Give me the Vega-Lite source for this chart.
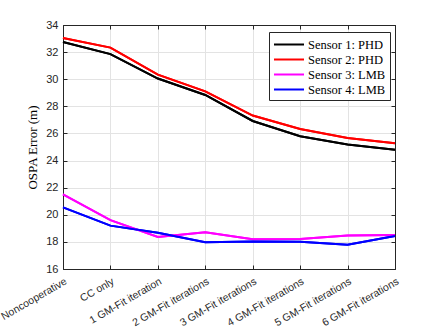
{
  "$schema": "https://vega.github.io/schema/vega-lite/v6.json",
  "width": 332,
  "height": 244,
  "autosize": "none",
  "padding": {"left": 63, "top": 25, "right": 41, "bottom": 58},
  "background": "white",
  "config": {
    "view": {"stroke": "#262626", "strokeWidth": 1},
    "axis": {
      "labelFont": "Liberation Sans",
      "labelFontSize": 11,
      "labelColor": "#262626",
      "domainColor": "#262626",
      "tickColor": "#262626",
      "gridColor": "#e3e3e3",
      "gridOpacity": 1
    }
  },
  "data": {
    "values": [
      {"series": "Sensor 1: PHD", "cat": "Noncooperative", "v": 32.75},
      {"series": "Sensor 1: PHD", "cat": "CC only", "v": 31.85},
      {"series": "Sensor 1: PHD", "cat": "1 GM-Fit iteration", "v": 30.05},
      {"series": "Sensor 1: PHD", "cat": "2 GM-Fit iterations", "v": 28.84},
      {"series": "Sensor 1: PHD", "cat": "3 GM-Fit iterations", "v": 26.92},
      {"series": "Sensor 1: PHD", "cat": "4 GM-Fit iterations", "v": 25.79},
      {"series": "Sensor 1: PHD", "cat": "5 GM-Fit iterations", "v": 25.18},
      {"series": "Sensor 1: PHD", "cat": "6 GM-Fit iterations", "v": 24.8},
      {"series": "Sensor 2: PHD", "cat": "Noncooperative", "v": 33.04},
      {"series": "Sensor 2: PHD", "cat": "CC only", "v": 32.33},
      {"series": "Sensor 2: PHD", "cat": "1 GM-Fit iteration", "v": 30.34},
      {"series": "Sensor 2: PHD", "cat": "2 GM-Fit iterations", "v": 29.1},
      {"series": "Sensor 2: PHD", "cat": "3 GM-Fit iterations", "v": 27.32},
      {"series": "Sensor 2: PHD", "cat": "4 GM-Fit iterations", "v": 26.33},
      {"series": "Sensor 2: PHD", "cat": "5 GM-Fit iterations", "v": 25.67},
      {"series": "Sensor 2: PHD", "cat": "6 GM-Fit iterations", "v": 25.27},
      {"series": "Sensor 3: LMB", "cat": "Noncooperative", "v": 21.5},
      {"series": "Sensor 3: LMB", "cat": "CC only", "v": 19.6},
      {"series": "Sensor 3: LMB", "cat": "1 GM-Fit iteration", "v": 18.37},
      {"series": "Sensor 3: LMB", "cat": "2 GM-Fit iterations", "v": 18.71},
      {"series": "Sensor 3: LMB", "cat": "3 GM-Fit iterations", "v": 18.2},
      {"series": "Sensor 3: LMB", "cat": "4 GM-Fit iterations", "v": 18.22},
      {"series": "Sensor 3: LMB", "cat": "5 GM-Fit iterations", "v": 18.47},
      {"series": "Sensor 3: LMB", "cat": "6 GM-Fit iterations", "v": 18.51},
      {"series": "Sensor 4: LMB", "cat": "Noncooperative", "v": 20.55},
      {"series": "Sensor 4: LMB", "cat": "CC only", "v": 19.2},
      {"series": "Sensor 4: LMB", "cat": "1 GM-Fit iteration", "v": 18.67},
      {"series": "Sensor 4: LMB", "cat": "2 GM-Fit iterations", "v": 17.97},
      {"series": "Sensor 4: LMB", "cat": "3 GM-Fit iterations", "v": 18.03},
      {"series": "Sensor 4: LMB", "cat": "4 GM-Fit iterations", "v": 18.01},
      {"series": "Sensor 4: LMB", "cat": "5 GM-Fit iterations", "v": 17.79},
      {"series": "Sensor 4: LMB", "cat": "6 GM-Fit iterations", "v": 18.43}
    ]
  },
  "layer": [
    {
      "mark": {"type": "line", "strokeWidth": 2},
      "encoding": {
        "x": {
          "field": "cat", "type": "ordinal",
          "sort": ["Noncooperative", "CC only", "1 GM-Fit iteration", "2 GM-Fit iterations", "3 GM-Fit iterations", "4 GM-Fit iterations", "5 GM-Fit iterations", "6 GM-Fit iterations"],
          "scale": {"type": "point", "padding": 0},
          "axis": {"title": null, "labelAngle": -30, "labelAlign": "right", "labelBaseline": "top", "labelFontSize": 10.5, "tickSize": -4, "labelPadding": 11, "grid": true, "domain": true}
        },
        "y": {
          "field": "v", "type": "quantitative",
          "scale": {"domain": [16, 34], "nice": false, "zero": false},
          "axis": {"title": "OSPA Error (m)", "titleFont": "Liberation Serif", "titleFontSize": 13, "titleFontWeight": "normal", "titleColor": "#000000", "values": [16, 18, 20, 22, 24, 26, 28, 30, 32, 34], "tickSize": -4, "labelPadding": 9, "grid": true, "titlePadding": 6}
        },
        "color": {
          "field": "series", "type": "nominal",
          "scale": {"domain": ["Sensor 1: PHD", "Sensor 2: PHD", "Sensor 3: LMB", "Sensor 4: LMB"], "range": ["#000000", "#ff0000", "#ff00ff", "#0000ff"]},
          "legend": {
            "title": null, "orient": "none", "legendX": 206, "legendY": 7,
            "symbolType": "M-1,0H3", "symbolSize": 225, "symbolStrokeWidth": 2,
            "labelFont": "Liberation Serif", "labelFontSize": 12.5, "labelColor": "#000000",
            "strokeColor": "#262626", "fillColor": "white", "padding": 4, "rowPadding": 0, "labelOffset": 18
          }
        }
      }
    },
    {
      "mark": {"type": "line", "strokeWidth": 2},
      "encoding": {
        "x": {
          "field": "cat", "type": "ordinal",
          "sort": ["Noncooperative", "CC only", "1 GM-Fit iteration", "2 GM-Fit iterations", "3 GM-Fit iterations", "4 GM-Fit iterations", "5 GM-Fit iterations", "6 GM-Fit iterations"],
          "scale": {"type": "point", "padding": 0},
          "axis": {"orient": "top", "title": null, "labels": false, "tickSize": -4, "grid": false}
        },
        "y": {
          "field": "v", "type": "quantitative",
          "scale": {"domain": [16, 34], "nice": false, "zero": false},
          "axis": {"orient": "right", "title": null, "labels": false, "values": [16, 18, 20, 22, 24, 26, 28, 30, 32, 34], "tickSize": -4, "grid": false}
        },
        "color": {"field": "series", "type": "nominal"}
      }
    }
  ],
  "resolve": {"axis": {"x": "independent", "y": "independent"}}
}
